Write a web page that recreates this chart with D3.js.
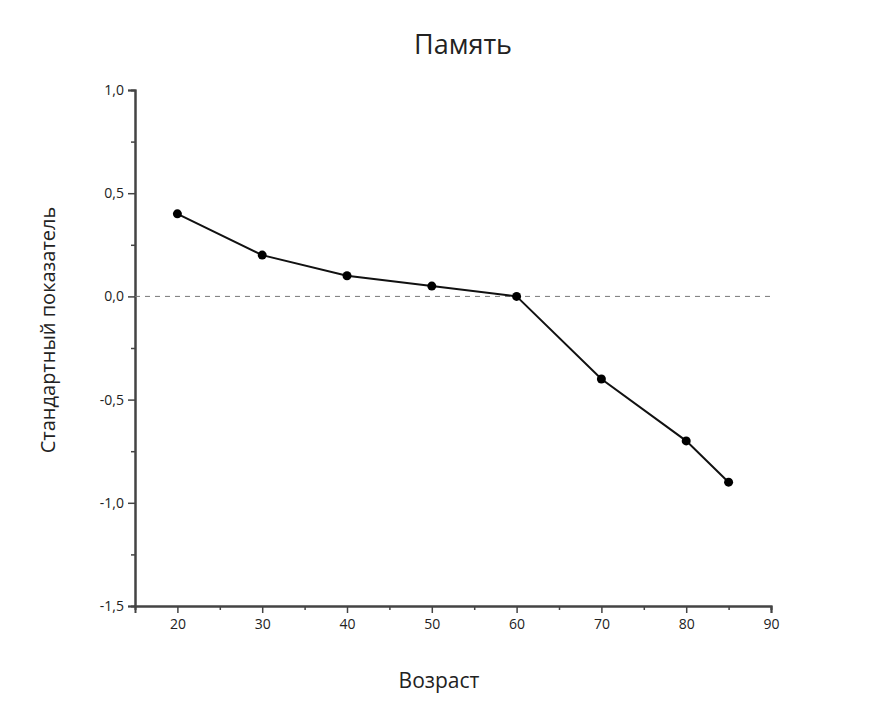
<!DOCTYPE html><html><head><meta charset="utf-8"><script src="https://d3js.org/d3.v7.min.js"></script>
<style>body{margin:0;background:#fff}text{font-family:"Open Sans",sans-serif}</style></head><body><svg width="872" height="712"></svg>
<script>
const ages=[20,30,40,50,60,70,80,85];
const scores=[0.4,0.2,0.1,0.05,0,-0.4,-0.7,-0.9];
const xTicks=[20,30,40,50,60,70,80,90];
const yTicks=[-1.5,-1.0,-0.5,0,0.5,1.0];
const svg=d3.select("svg");
const x=d3.scaleLinear().domain([15,90]).range([135,771]);
const y=d3.scaleLinear().domain([-1.5,1]).range([606,90]);
const fmt=d=>d3.format(".1f")(d).replace(".",",").replace("−","-");
svg.append("g").attr("transform","translate(0,606)").call(d3.axisBottom(x).tickValues(xTicks).tickSize(7).tickPadding(6).tickFormat(d3.format("d")));
svg.append("g").attr("transform","translate(0,606)").call(d3.axisBottom(x).tickValues(d3.range(25,90,10)).tickSize(4).tickFormat(""));
svg.append("g").attr("transform","translate(135,0)").call(d3.axisLeft(y).tickValues(yTicks).tickSize(7).tickPadding(4).tickFormat(fmt));
svg.append("g").attr("transform","translate(135,0)").call(d3.axisLeft(y).tickValues(d3.range(-1.25,1,0.5)).tickSize(4).tickFormat(""));
svg.selectAll(".domain").attr("stroke","#444").attr("stroke-width",2);
svg.selectAll(".tick line").attr("stroke","#444").attr("stroke-width",1.5);
svg.selectAll(".tick text").attr("font-size",14).attr("fill","#222");
svg.append("line").attr("x1",135).attr("x2",775).attr("y1",y(0)).attr("y2",y(0)).attr("stroke","#777").attr("stroke-dasharray","5,5");
svg.append("path").datum(ages.map((a,i)=>[a,scores[i]])).attr("fill","none").attr("stroke","#111").attr("stroke-width",2)
 .attr("d",d3.line().x(d=>x(d[0])).y(d=>y(d[1])));
svg.selectAll("circle").data(ages).join("circle").attr("cx",d=>x(d)).attr("cy",(d,i)=>y(scores[i])).attr("r",4.5).attr("fill","#000");
svg.append("text").attr("x",463).attr("y",54).attr("text-anchor","middle").attr("font-size",27).attr("fill","#222").text("Память");
svg.append("text").attr("x",439).attr("y",688).attr("text-anchor","middle").attr("font-size",21).attr("fill","#222").text("Возраст");
svg.append("text").attr("transform","translate(55,330) rotate(-90)").attr("text-anchor","middle").attr("font-size",20).attr("fill","#222").text("Стандартный показатель");
</script></body></html>
